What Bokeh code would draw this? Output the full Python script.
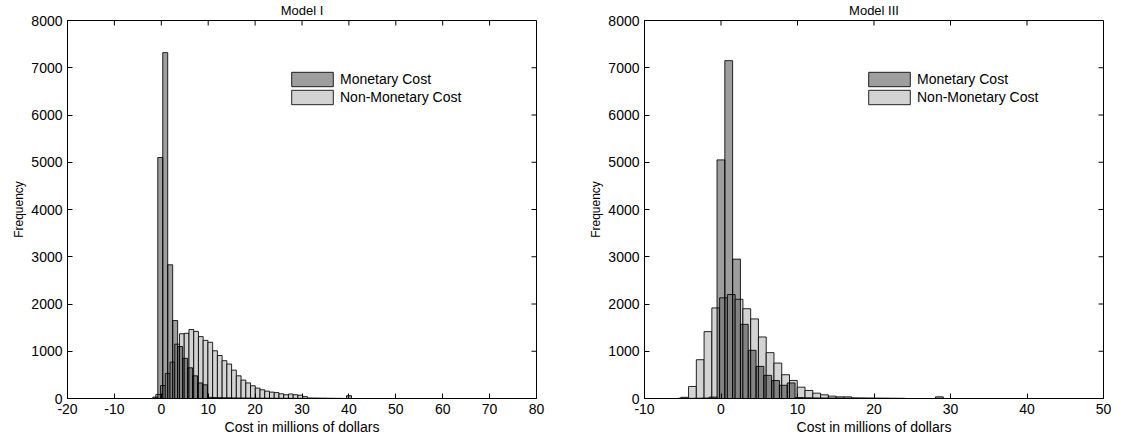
import numpy as np
from bokeh.plotting import figure
from bokeh.layouts import row
from bokeh.models import Range1d, FixedTicker, Legend, LegendItem
from bokeh.embed import file_html
from bokeh.resources import INLINE

# ---------------- data ----------------
y_ticks = [0, 1000, 2000, 3000, 4000, 5000, 6000, 7000, 8000]

# Model I
m1_x_ticks = [-20, -10, 0, 10, 20, 30, 40, 50, 60, 70, 80]
m1_mon_start = -1.81
m1_mon_width = 1.059
m1_mon_counts = [30, 5100, 7320, 2830, 1650, 1100, 850, 650, 480, 330,
                 290, 25, 20, 18, 15, 14, 12, 10, 10, 9,
                 8, 7, 6, 6, 5, 5, 4, 4, 3, 3,
                 3, 2, 2, 2, 2, 1, 1, 1, 0, 60]
m1_non_start = -1.17
m1_non_width = 1.01
m1_non_counts = [85, 275, 530, 770, 1150, 1370, 1380, 1460, 1420, 1310,
                 1230, 1190, 1010, 910, 800, 730, 600, 480, 390, 330,
                 270, 220, 185, 155, 135, 125, 100, 80, 95, 80,
                 70, 40, 10, 8, 6, 5, 4, 3, 2, 1]

# Model III
m3_x_ticks = [-10, 0, 10, 20, 30, 40, 50]
m3_mon_start = -5.62
m3_mon_width = 1.02
m3_mon_counts = [5, 3, 5, 10, 30, 5050, 7150, 2950, 1570, 1020,
                 680, 490, 380, 280, 330, 20, 15, 12, 10, 10,
                 9, 8, 8, 7, 6, 5, 4, 3, 2, 0,
                 0, 0, 0, 35]
m3_non_start = -5.255
m3_non_width = 1.015
m3_non_counts = [25, 255, 821, 1415, 1917, 2130, 2200, 2100, 1900, 1684,
                 1302, 970, 750, 503, 382, 240, 170, 113, 78, 50,
                 35, 35, 10, 8, 6, 5, 4, 3, 2]

FONT = "Liberation Sans"
FRAME_H = 378
TICK_PX = 5


def style_axis(ax, ticks):
    ax.ticker = FixedTicker(ticks=ticks)
    ax.major_label_overrides = {t: str(t) for t in ticks}
    ax.minor_tick_line_color = None
    ax.major_tick_in = TICK_PX
    ax.major_tick_out = 0
    ax.axis_line_color = "black"
    ax.major_tick_line_color = "black"
    ax.major_label_text_font = FONT
    ax.major_label_text_color = "black"
    ax.major_label_text_font_size = "14px"
    ax.major_label_standoff = 5
    ax.axis_label_text_font = FONT
    ax.axis_label_text_font_style = "normal"
    ax.axis_label_text_color = "black"


def make_panel(title, x_lo, x_hi, x_ticks, mon_start, mon_w, mon_counts,
               non_start, non_w, non_counts, width, b_left, frame_w):
    b_right = width - b_left - frame_w
    p = figure(width=width, height=442, x_range=Range1d(x_lo, x_hi),
               y_range=Range1d(0, 8000), output_backend="svg",
               toolbar_location=None, min_border_left=b_left,
               min_border_right=b_right, min_border_top=20, min_border_bottom=44,
               title=title)
    p.title.align = "center"
    p.title.text_font = FONT
    p.title.text_font_size = "13px"
    p.title.text_font_style = "normal"
    p.title.text_color = "black"
    p.title.vertical_align = "top"
    p.title.standoff = 2
    p.xgrid.visible = False
    p.ygrid.visible = False
    p.outline_line_color = "black"
    p.background_fill_color = "white"

    style_axis(p.xaxis[0], x_ticks)
    style_axis(p.yaxis[0], y_ticks)
    p.xaxis[0].axis_label = "Cost in millions of dollars"
    p.xaxis[0].axis_label_text_font_size = "14px"
    p.xaxis[0].axis_label_standoff = 2
    p.yaxis[0].axis_label = "Frequency"
    p.yaxis[0].axis_label_text_font_size = "12px"
    p.yaxis[0].axis_label_standoff = 2

    # mirrored inward ticks on the top and right edges (MATLAB box style)
    y_hi = 8000
    dy = y_hi / FRAME_H * TICK_PX
    dx = (x_hi - x_lo) / frame_w * TICK_PX
    xt = np.array(x_ticks, dtype=float)
    yt = np.array(y_ticks, dtype=float)
    p.segment(x0=xt, x1=xt, y0=y_hi, y1=y_hi - dy, line_color="black", line_width=1)
    p.segment(x0=x_hi, x1=x_hi - dx, y0=yt, y1=yt, line_color="black", line_width=1)

    n_non = len(non_counts)
    non_left = non_start + non_w * np.arange(n_non)
    r_non = p.quad(left=non_left, right=non_left + non_w, bottom=0, top=non_counts,
                   fill_color="#d3d3d3", line_color="black", line_alpha=0.85,
                   line_width=1)
    n_mon = len(mon_counts)
    mon_left = mon_start + mon_w * np.arange(n_mon)
    r_mon = p.quad(left=mon_left, right=mon_left + mon_w, bottom=0, top=mon_counts,
                   fill_color="black", fill_alpha=0.38, line_color="black",
                   line_alpha=0.85, line_width=1)

    legend = Legend(items=[LegendItem(label="Monetary Cost", renderers=[r_mon]),
                           LegendItem(label="Non-Monetary Cost", renderers=[r_non])],
                    location=(219, 292), glyph_width=52, glyph_height=18,
                    spacing=0, padding=0, margin=0, label_standoff=2,
                    label_height=18, border_line_color=None,
                    background_fill_alpha=0, label_text_font=FONT,
                    label_text_font_size="14px", label_text_color="black")
    p.add_layout(legend)
    return p


p1 = make_panel("Model I", -20, 80, m1_x_ticks, m1_mon_start, m1_mon_width, m1_mon_counts,
                m1_non_start, m1_non_width, m1_non_counts, 578, 67, 469)
p3 = make_panel("Model III", -10, 50, m3_x_ticks, m3_mon_start, m3_mon_width, m3_mon_counts,
                m3_non_start, m3_non_width, m3_non_counts, 537, 66, 459)

layout = row(p1, p3)
open("out.html", "w").write(file_html(layout, INLINE))
